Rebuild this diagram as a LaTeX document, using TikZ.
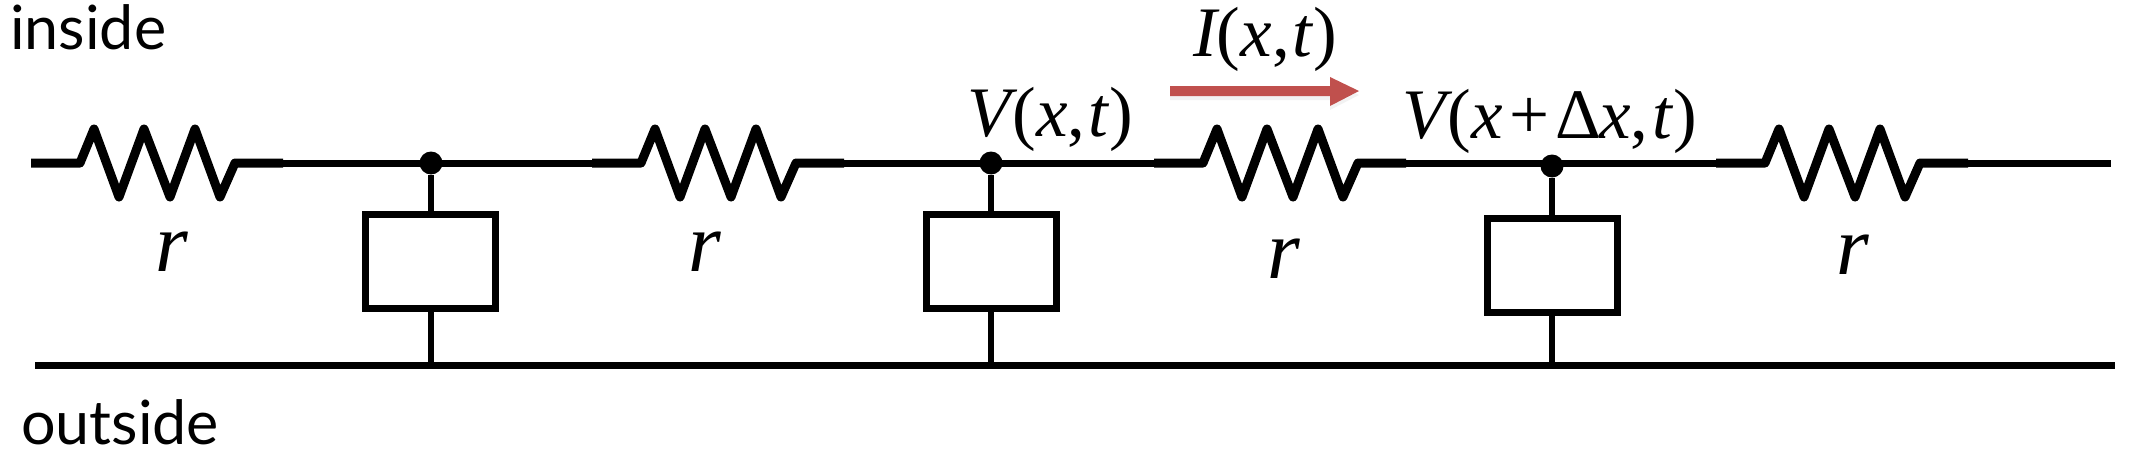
\documentclass[tikz,border=0pt]{standalone}
\usepackage{fontspec}
\setmainfont{Liberation Serif}
\newfontfamily\labfont{Lato}
\newcommand{\itx}[1]{{\itshape #1}}
\definecolor{arrowred}{HTML}{C0504D}
\tikzset{
  wire/.style={line width=7pt},
  res/.style={line width=9pt,line join=round},
  lab/.style={font=\fontsize{71}{74}\selectfont,inner sep=0pt,anchor=base west},
  rlab/.style={font=\fontsize{84}{88}\selectfont,inner sep=0pt,anchor=base},
  word/.style={font=\labfont\fontsize{61}{64}\selectfont,inner sep=0pt,anchor=base west},
  dotn/.style={circle,fill=black,inner sep=0pt,minimum size=23pt},
  boxn/.style={draw,line width=7pt,minimum width=130pt,minimum height=94pt,inner sep=0pt,outer sep=0pt},
  arrowshape/.style={insert path={(1170,86) -- (1330,86) -- (1330,77) -- (1359,91) -- (1330,106) -- (1330,96) -- (1170,96) -- cycle}},
  pics/resistor/.style={code={
    \draw[res] (0,0) -- (49,0) -- (63,-34) -- (88,34) -- (113,-34) -- (139,34) -- (164,-34) -- (189,34) -- (204,0) -- (252,0);
  }}
}
\begin{document}
\begin{tikzpicture}[x=1pt,y=-1pt]
\useasboundingbox (0,0) rectangle (2142,460);
\coordinate (r1) at (31,163);
\coordinate (r2) at (592,163);
\coordinate (r3) at (1154,163);
\coordinate (r4) at (1716,163);
\pic at (r1) {resistor};
\pic at (r2) {resistor};
\pic at (r3) {resistor};
\pic at (r4) {resistor};
\node[dotn] (n1) at (431,163) {};
\node[dotn] (n2) at (991,163) {};
\node[dotn] (n3) at (1552,166) {};
\node[boxn] (b1) at (430,261) {};
\node[boxn] (b2) at (991,261) {};
\node[boxn] (b3) at (1552,265) {};
\coordinate (g1) at (431,365);
\coordinate (g2) at (991,365);
\coordinate (g3) at (1552,365);
\coordinate (gl) at (35,365);
\coordinate (gr) at (2115,365);
\coordinate (e4) at (2111,163);
\coordinate (w1a) at (283,163);
\coordinate (w1b) at (592,163);
\coordinate (w2a) at (844,163);
\coordinate (w2b) at (1154,163);
\coordinate (w3a) at (1405,163);
\coordinate (w3b) at (1716,163);
\coordinate (w4a) at (1968,163);
\draw[wire] (w1a) -- (w1b);
\draw[wire] (w2a) -- (w2b);
\draw[wire] (w3a) -- (w3b);
\draw[wire] (w4a) -- (e4);
\draw[wire] (gl) -- (gr);
\foreach \i in {1,2,3}{
  \draw[line width=6pt] (n\i) -- (n\i |- b\i.north);
  \draw[line width=6pt] (n\i |- b\i.south) -- (g\i);
}
\node[word] (ins) at (10,49) {inside};
\node[word] (out) at (21,444) {outside};
\node[rlab] (q1) at (172,271) {\itx{r}};
\node[rlab] (q2) at (705,271) {\itx{r}};
\node[rlab] (q3) at (1284,278) {\itx{r}};
\node[rlab] (q4) at (1853,274) {\itx{r}};
\node[lab] (lv1) at (967,136) {\itx{V}\kern2pt(\itx{x},\kern3pt\itx{t}\kern1pt)};
\node[lab] (li) at (1193,57) {\itx{I}(\itx{x},\kern3pt\itx{t}\kern1pt)};
\node[lab] (lv2) at (1402,138) {\itx{V}\kern2pt(\itx{x}\kern7pt+\kern6ptΔ\kern-2pt\itx{x},\kern4pt\itx{t}\kern1pt)};
\fill[black,opacity=0.05,yshift=-4pt,arrowshape];
\fill[arrowred,arrowshape];
\end{tikzpicture}
\end{document}
